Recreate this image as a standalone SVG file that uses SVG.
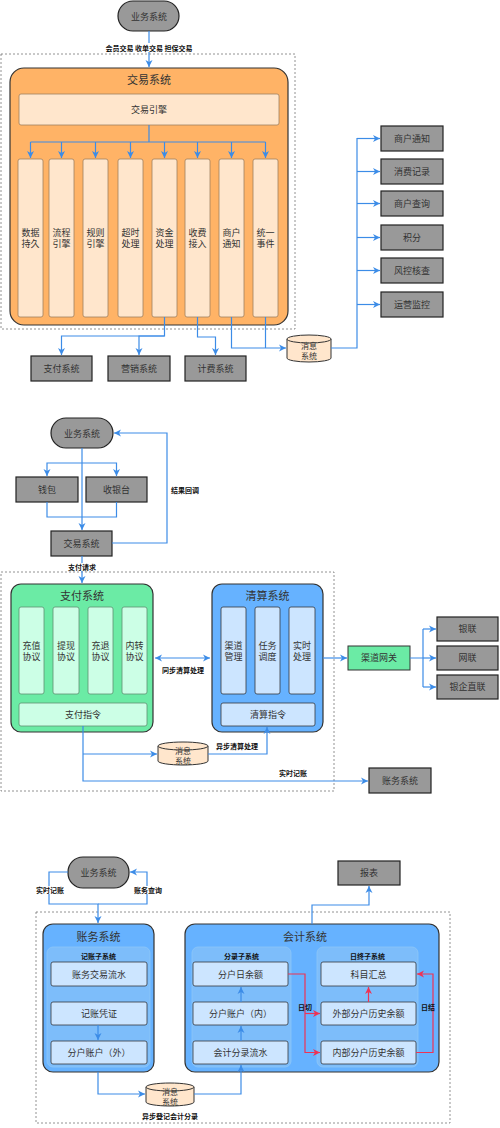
<svg xmlns="http://www.w3.org/2000/svg" width="500" height="1128" viewBox="0 0 500 1128">
<defs>
<marker id="ab" markerUnits="userSpaceOnUse" markerWidth="8" markerHeight="8" refX="7" refY="4" orient="auto-start-reverse" viewBox="0 0 8 8"><path d="M0,0.5 L7,4 L0,7.5 L2,4 Z" fill="#3C8CE7"/></marker>
<marker id="ar" markerUnits="userSpaceOnUse" markerWidth="8" markerHeight="8" refX="7" refY="4" orient="auto" viewBox="0 0 8 8"><path d="M0,0.5 L7,4 L0,7.5 L2,4 Z" fill="#EE3355"/></marker>
</defs>
<style>
text{font-family:"Noto Sans CJK SC","Noto Sans",sans-serif;fill:#333;text-anchor:middle}
.t9{font-size:9px}
.t11{font-size:11px}
.lb{font-size:7px;font-weight:bold;fill:#111}
.gray{fill:#999999;stroke:#222;stroke-width:1.2}
.dash{fill:none;stroke:#777;stroke-width:0.8;stroke-dasharray:2 2}
.org{fill:#FFB366;stroke:#333;stroke-width:1.2}
.orgi{fill:#FFE6CC;stroke:#A08060;stroke-width:0.8}
.grn{fill:#6BEBA5;stroke:#333;stroke-width:1.2}
.grni{fill:#CCFFE6;stroke:#5F8F72;stroke-width:0.8}
.blu{fill:#66B2FF;stroke:#333;stroke-width:1.2}
.blui{fill:#CCE5FF;stroke:#36393D;stroke-width:0.8}
.sub{fill:#7DBDFA;stroke:#8EC6F7;stroke-width:0.8}
.cyl{fill:#FFE6CC;stroke:#333;stroke-width:1}
.c{fill:none;stroke:#3C8CE7;stroke-width:1.2}
.ca{fill:none;stroke:#3C8CE7;stroke-width:1.2;marker-end:url(#ab)}
.ra{fill:none;stroke:#EE3355;stroke-width:1.2;marker-end:url(#ar)}
.r{fill:none;stroke:#EE3355;stroke-width:1.2}
</style>

<!-- ============ Section 1 ============ -->
<rect class="dash" x="1" y="54" width="294" height="275"/>
<g id="s1-biz"><rect class="gray" x="118" y="1" width="61" height="30" rx="15"/><text class="t9" x="149" y="19.5">业务系统</text></g>
<g id="s1-trade">
<rect class="org" x="10" y="68" width="278" height="257" rx="14"/>
<text class="t11" x="149" y="84">交易系统</text>
</g>
<g id="s1-engine"><rect class="orgi" x="19" y="94" width="260" height="31" rx="2"/><text class="t9" x="149" y="113">交易引擎</text></g>
<g id="s1-col1"><rect class="orgi" x="18" y="159" width="25" height="158" rx="2"/><text class="t9" x="30.5" y="236">数据</text><text class="t9" x="30.5" y="247">持久</text></g>
<g id="s1-col2"><rect class="orgi" x="49" y="159" width="25" height="158" rx="2"/><text class="t9" x="61.5" y="236">流程</text><text class="t9" x="61.5" y="247">引擎</text></g>
<g id="s1-col3"><rect class="orgi" x="83" y="159" width="25" height="158" rx="2"/><text class="t9" x="95.5" y="236">规则</text><text class="t9" x="95.5" y="247">引擎</text></g>
<g id="s1-col4"><rect class="orgi" x="118" y="159" width="25" height="158" rx="2"/><text class="t9" x="130.5" y="236">超时</text><text class="t9" x="130.5" y="247">处理</text></g>
<g id="s1-col5"><rect class="orgi" x="152" y="159" width="25" height="158" rx="2"/><text class="t9" x="164.5" y="236">资金</text><text class="t9" x="164.5" y="247">处理</text></g>
<g id="s1-col6"><rect class="orgi" x="185" y="159" width="25" height="158" rx="2"/><text class="t9" x="197.5" y="236">收费</text><text class="t9" x="197.5" y="247">接入</text></g>
<g id="s1-col7"><rect class="orgi" x="219" y="159" width="25" height="158" rx="2"/><text class="t9" x="231.5" y="236">商户</text><text class="t9" x="231.5" y="247">通知</text></g>
<g id="s1-col8"><rect class="orgi" x="253" y="159" width="25" height="158" rx="2"/><text class="t9" x="265.5" y="236">统一</text><text class="t9" x="265.5" y="247">事件</text></g>
<g id="s1-pay"><rect class="gray" x="31" y="356" width="61" height="25"/><text class="t9" x="61.5" y="371.5">支付系统</text></g>
<g id="s1-mkt"><rect class="gray" x="108" y="356" width="62" height="25"/><text class="t9" x="139" y="371.5">营销系统</text></g>
<g id="s1-fee"><rect class="gray" x="185" y="356" width="61" height="25"/><text class="t9" x="215.5" y="371.5">计费系统</text></g>
<g id="s1-mq"><path class="cyl" d="M287,339 A22,4 0 0 1 331,339 V358 A22,4 0 0 1 287,358 Z"/><path class="cyl" d="M287,339 A22,4 0 0 0 331,339" fill="none"/><text class="t9" x="309" y="349" style="font-size:8px">消息</text><text class="t9" x="309" y="359" style="font-size:8px">系统</text></g>
<g id="s1-r1"><rect class="gray" x="381" y="126" width="62" height="25"/><text class="t9" x="412" y="141.5">商户通知</text></g>
<g id="s1-r2"><rect class="gray" x="381" y="159" width="62" height="25"/><text class="t9" x="412" y="174.5">消费记录</text></g>
<g id="s1-r3"><rect class="gray" x="381" y="191" width="62" height="25"/><text class="t9" x="412" y="206.5">商户查询</text></g>
<g id="s1-r4"><rect class="gray" x="381" y="225" width="62" height="25"/><text class="t9" x="412" y="240.5">积分</text></g>
<g id="s1-r5"><rect class="gray" x="381" y="258" width="62" height="25"/><text class="t9" x="412" y="273.5">风控核查</text></g>
<g id="s1-r6"><rect class="gray" x="381" y="292" width="62" height="25"/><text class="t9" x="412" y="307.5">运营监控</text></g>

<g id="s1-connectors">
<path class="ca" d="M149,31 V67"/>
<rect x="103" y="43" width="92" height="9" fill="#fff"/>
<text class="lb" x="149" y="50.5">会员交易 收单交易 担保交易</text>
<path class="c" d="M149,125 V142 M30.5,142 H265.5"/>
<path class="ca" d="M30.5,142 V158"/><path class="ca" d="M61.5,142 V158"/><path class="ca" d="M95.5,142 V158"/><path class="ca" d="M130.5,142 V158"/>
<path class="ca" d="M164.5,142 V158"/><path class="ca" d="M197.5,142 V158"/><path class="ca" d="M231.5,142 V158"/><path class="ca" d="M265.5,142 V158"/>
<path class="ca" d="M164.5,317 V336 H61.5 V355"/>
<path class="ca" d="M164.5,336 H139 V355"/>
<path class="ca" d="M197.5,317 V337 H215.5 V355"/>
<path class="ca" d="M231.5,317 V348 H286"/>
<path class="c" d="M265.5,317 V348"/>
<path class="c" d="M331,348 H357 V138"/>
<path class="ca" d="M357,138.5 H380"/><path class="ca" d="M357,171.5 H380"/><path class="ca" d="M357,203.5 H380"/>
<path class="ca" d="M357,237.5 H380"/><path class="ca" d="M357,270.5 H380"/><path class="ca" d="M357,304.5 H380"/>
</g>

<!-- ============ Section 2 ============ -->
<rect class="dash" x="1" y="572" width="333" height="219"/>
<g id="s2-biz"><rect class="gray" x="51" y="418" width="62" height="30" rx="15"/><text class="t9" x="82" y="436.5">业务系统</text></g>
<g id="s2-wallet"><rect class="gray" x="16" y="477" width="62" height="25"/><text class="t9" x="47" y="492.5">钱包</text></g>
<g id="s2-cashier"><rect class="gray" x="86" y="477" width="61" height="25"/><text class="t9" x="116.5" y="492.5">收银台</text></g>
<g id="s2-trade"><rect class="gray" x="51" y="531" width="61" height="25"/><text class="t9" x="81.5" y="546.5">交易系统</text></g>
<g id="s2-pay">
<rect class="grn" x="11" y="584" width="142" height="148" rx="10"/>
<text class="t11" x="82" y="600">支付系统</text>
<rect class="grni" x="19" y="607" width="25" height="87" rx="2"/><text class="t9" x="31.5" y="649">充值</text><text class="t9" x="31.5" y="660">协议</text>
<rect class="grni" x="53" y="607" width="26" height="87" rx="2"/><text class="t9" x="66" y="649">提现</text><text class="t9" x="66" y="660">协议</text>
<rect class="grni" x="88" y="607" width="25" height="87" rx="2"/><text class="t9" x="100.5" y="649">充退</text><text class="t9" x="100.5" y="660">协议</text>
<rect class="grni" x="122" y="607" width="25" height="87" rx="2"/><text class="t9" x="134.5" y="649">内转</text><text class="t9" x="134.5" y="660">协议</text>
<rect class="grni" x="19" y="703" width="128" height="23" rx="2"/><text class="t9" x="83" y="718">支付指令</text>
</g>
<g id="s2-clear">
<rect class="blu" x="212" y="584" width="111" height="148" rx="10"/>
<text class="t11" x="267.5" y="600">清算系统</text>
<rect class="blui" x="221" y="607" width="25" height="87" rx="2"/><text class="t9" x="233.5" y="649">渠道</text><text class="t9" x="233.5" y="660">管理</text>
<rect class="blui" x="255" y="607" width="25" height="87" rx="2"/><text class="t9" x="267.5" y="649">任务</text><text class="t9" x="267.5" y="660">调度</text>
<rect class="blui" x="289" y="607" width="26" height="87" rx="2"/><text class="t9" x="302" y="649">实时</text><text class="t9" x="302" y="660">处理</text>
<rect class="blui" x="221" y="703" width="94" height="23" rx="2"/><text class="t9" x="268" y="718">清算指令</text>
</g>
<g id="s2-gw"><rect class="grn" x="348" y="646" width="62" height="24" style="stroke-width:1"/><text class="t9" x="379" y="661">渠道网关</text></g>
<g id="s2-unionpay"><rect class="gray" x="437" y="617" width="61" height="24"/><text class="t9" x="467.5" y="632">银联</text></g>
<g id="s2-netunion"><rect class="gray" x="437" y="646" width="61" height="24"/><text class="t9" x="467.5" y="661">网联</text></g>
<g id="s2-bank"><rect class="gray" x="437" y="675" width="61" height="24"/><text class="t9" x="467.5" y="690">银企直联</text></g>
<g id="s2-mq"><path class="cyl" d="M158,746 A25,4 0 0 1 208,746 V761 A25,4 0 0 1 158,761 Z"/><path class="cyl" d="M158,746 A25,4 0 0 0 208,746" fill="none"/><text class="t9" x="183" y="754" style="font-size:8px">消息</text><text class="t9" x="183" y="764" style="font-size:8px">系统</text></g>
<g id="s2-acct"><rect class="gray" x="369" y="768" width="62" height="25"/><text class="t9" x="400" y="783.5">账务系统</text></g>

<g id="s2-connectors">
<path class="ca" d="M82,448 V530"/>
<path class="ca" d="M82,463 H47 V476"/>
<path class="ca" d="M82,463 H116.5 V476"/>
<path class="c" d="M47,502 V517 H116.5 V502"/>
<path class="ca" d="M112,543 H167 V433 H114"/>
<text class="lb" x="185" y="493">结果回调</text>
<path class="ca" d="M82,556 V583"/>
<rect x="66" y="563" width="32" height="8" fill="#fff"/>
<text class="lb" x="82" y="569.5">支付请求</text>
<path class="c" d="M155,658 H210" marker-start="url(#ab)" marker-end="url(#ab)"/>
<text class="lb" x="183" y="673">同步清算处理</text>
<path class="ca" d="M323,658 H347"/>
<path class="c" d="M410,658 H423 M423,629 V687"/>
<path class="ca" d="M423,629 H436"/><path class="ca" d="M423,658 H436"/><path class="ca" d="M423,687 H436"/>
<path class="ca" d="M83,726 V781 H368"/>
<path class="ca" d="M83,754 H157"/>
<path class="ca" d="M208,754 H267 V727"/>
<text class="lb" x="237" y="749">异步清算处理</text>
<text class="lb" x="293" y="776">实时记账</text>
</g>

<!-- ============ Section 3 ============ -->
<rect class="dash" x="36" y="912" width="414" height="211"/>
<g id="s3-biz"><rect class="gray" x="68" y="857" width="61" height="31" rx="15"/><text class="t9" x="98.5" y="875.5">业务系统</text></g>
<g id="s3-report"><rect class="gray" x="338" y="861" width="62" height="24"/><text class="t9" x="369" y="876">报表</text></g>
<g id="s3-acct">
<rect class="blu" x="43" y="924" width="111" height="148" rx="10"/>
<text class="t11" x="98.5" y="941">账务系统</text>
<rect class="sub" x="47" y="947" width="103" height="120" rx="6"/>
<text class="lb" x="98.5" y="959">记账子系统</text>
<rect class="blui" x="51" y="962" width="96" height="24" rx="2"/><text class="t9" x="99" y="977.5">账务交易流水</text>
<rect class="blui" x="51" y="1002" width="96" height="23" rx="2"/><text class="t9" x="99" y="1017">记账凭证</text>
<rect class="blui" x="51" y="1041" width="96" height="23" rx="2"/><text class="t9" x="99" y="1056">分户账户（外）</text>
</g>
<g id="s3-acc">
<rect class="blu" x="185" y="924" width="254" height="148" rx="10"/>
<text class="t11" x="305" y="941">会计系统</text>
<rect class="sub" x="192" y="947" width="99" height="120" rx="6"/>
<text class="lb" x="241.5" y="959">分录子系统</text>
<rect class="blui" x="193" y="962" width="95" height="24" rx="2"/><text class="t9" x="240.5" y="977.5">分户日余额</text>
<rect class="blui" x="193" y="1002" width="95" height="23" rx="2"/><text class="t9" x="240.5" y="1017">分户账户（内）</text>
<rect class="blui" x="193" y="1041" width="95" height="23" rx="2"/><text class="t9" x="240.5" y="1056">会计分录流水</text>
<rect class="sub" x="317" y="947" width="101" height="120" rx="6"/>
<text class="lb" x="367.5" y="959">日终子系统</text>
<rect class="blui" x="321" y="962" width="95" height="24" rx="2"/><text class="t9" x="368.5" y="977.5">科目汇总</text>
<rect class="blui" x="321" y="1002" width="95" height="23" rx="2"/><text class="t9" x="368.5" y="1017">外部分户历史余额</text>
<rect class="blui" x="321" y="1041" width="95" height="23" rx="2"/><text class="t9" x="368.5" y="1056">内部分户历史余额</text>
</g>
<g id="s3-mq"><path class="cyl" d="M146,1087 A24,4 0 0 1 194,1087 V1102 A24,4 0 0 1 146,1102 Z"/><path class="cyl" d="M146,1087 A24,4 0 0 0 194,1087" fill="none"/><text class="t9" x="170" y="1095" style="font-size:8px">消息</text><text class="t9" x="170" y="1105" style="font-size:8px">系统</text></g>

<g id="s3-connectors">
<path class="ca" d="M68,872 H49 V904 H98 V923"/>
<path class="ca" d="M98,904 H147 V872 H130"/>
<rect x="36" y="886" width="29" height="8" fill="#fff"/>
<text class="lb" x="50" y="892.5">实时记账</text>
<rect x="134" y="886" width="29" height="8" fill="#fff"/>
<text class="lb" x="148" y="892.5">账务查询</text>
<path class="ca" d="M98,1025 V1040"/>
<path class="ca" d="M98,1072 V1094 H145"/>
<text class="lb" x="170" y="1119">异步登记会计分录</text>
<path class="ca" d="M194,1094 H241 V1065"/>
<path class="ca" d="M241,1041 V1026"/>
<path class="ca" d="M241,1002 V987"/>
<path class="ca" d="M312,924 V905 H369 V886"/>
<path class="ra" d="M368.5,1002 V987"/>
<path class="ra" d="M288,974 H305 V1052.5 H320"/>
<path class="ra" d="M305,1013.5 H320"/>
<path class="ra" d="M416,1052.5 H433 V974 H417"/>
<text class="lb" x="305" y="1010">日切</text>
<text class="lb" x="428" y="1010">日结</text>
</g>
</svg>
